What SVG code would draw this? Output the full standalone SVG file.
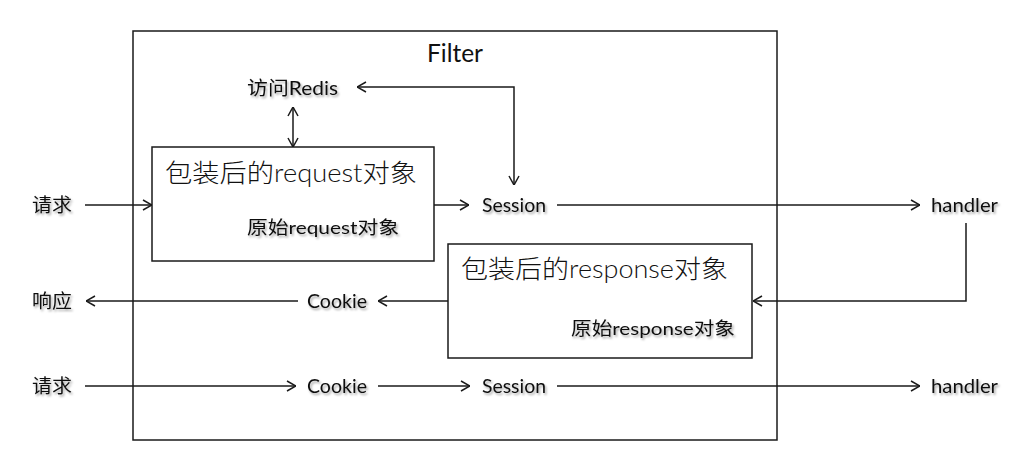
<svg xmlns="http://www.w3.org/2000/svg" width="1019" height="468" viewBox="0 0 1019 468">
<defs>
<style>
.ln{stroke:#1a1a1a;stroke-width:1.5;fill:none}
.box{stroke:#1a1a1a;stroke-width:1.5;fill:#fff}
.lbl{font-family:Lato,"Open Sans","Noto Sans CJK SC",sans-serif;font-size:19px;fill:#111}
.cjk{font-family:"Noto Sans CJK SC",sans-serif;font-size:19px;fill:#111}
.big{font-family:"Noto Sans CJK SC",sans-serif;font-size:25px;font-weight:300;fill:#111}
.mid{font-family:"Noto Sans CJK SC",sans-serif;font-size:18px;fill:#111}
.title{font-family:Lato,"Open Sans",sans-serif;font-size:25px;fill:#111}
.sh{filter:url(#shadow)}
</style>
<filter id="shadow" x="-10%" y="-30%" width="130%" height="170%">
<feDropShadow dx="1.5" dy="2" stdDeviation="1.2" flood-color="#000" flood-opacity="0.35"/>
</filter>
<marker id="ah" viewBox="0 0 10 12" refX="10" refY="6" markerWidth="10" markerHeight="12" markerUnits="userSpaceOnUse" orient="auto-start-reverse">
<path d="M1,1 L10,6 L1,11" fill="none" stroke="#1a1a1a" stroke-width="1.5"/>
</marker>
</defs>

<g id="filter-box">
<rect class="box" x="133" y="31" width="644" height="409" fill="none"/>
<text class="title" x="427" y="62" textLength="56" lengthAdjust="spacingAndGlyphs">Filter</text>
</g>

<g id="connectors">
<line class="ln" x1="85" y1="205" x2="152" y2="205" marker-end="url(#ah)"/>
<line class="ln" x1="434" y1="205" x2="469" y2="205" marker-end="url(#ah)"/>
<line class="ln" x1="557" y1="205" x2="920" y2="205" marker-end="url(#ah)"/>
<line class="ln" x1="293" y1="107" x2="293" y2="147" marker-start="url(#ah)" marker-end="url(#ah)"/>
<polyline class="ln" points="357,87 514,87 514,185" marker-start="url(#ah)" marker-end="url(#ah)"/>
<polyline class="ln" points="966,223 966,301 753,301" marker-end="url(#ah)"/>
<line class="ln" x1="448" y1="301" x2="378" y2="301" marker-end="url(#ah)"/>
<line class="ln" x1="298" y1="301" x2="86" y2="301" marker-end="url(#ah)"/>
<line class="ln" x1="85" y1="386" x2="296" y2="386" marker-end="url(#ah)"/>
<line class="ln" x1="378" y1="386" x2="470" y2="386" marker-end="url(#ah)"/>
<line class="ln" x1="557" y1="386" x2="920" y2="386" marker-end="url(#ah)"/>
</g>

<g id="redis">
<text class="cjk sh" x="247" y="95" textLength="91" lengthAdjust="spacingAndGlyphs">访问<tspan font-family="Lato,'Open Sans',sans-serif">Redis</tspan></text>
</g>

<g id="request-wrapper">
<rect class="box" x="152" y="147" width="282" height="114"/>
<text class="big" x="165" y="182" textLength="252" lengthAdjust="spacingAndGlyphs">包装后的<tspan font-family="Lato,'Open Sans',sans-serif">request</tspan>对象</text>
<text class="mid sh" x="247" y="234" textLength="152" lengthAdjust="spacingAndGlyphs">原始<tspan font-family="Lato,'Open Sans',sans-serif">request</tspan>对象</text>
</g>

<g id="response-wrapper">
<rect class="box" x="448" y="244" width="304" height="114"/>
<text class="big" x="461" y="278" textLength="267" lengthAdjust="spacingAndGlyphs">包装后的<tspan font-family="Lato,'Open Sans',sans-serif">response</tspan>对象</text>
<text class="mid sh" x="571" y="335" textLength="164" lengthAdjust="spacingAndGlyphs">原始<tspan font-family="Lato,'Open Sans',sans-serif">response</tspan>对象</text>
</g>

<g id="req1"><text class="cjk sh" x="32" y="212" textLength="40" lengthAdjust="spacingAndGlyphs">请求</text></g>
<g id="session1"><text class="lbl sh" x="482" y="212" textLength="64" lengthAdjust="spacingAndGlyphs">Session</text></g>
<g id="handler1"><text class="lbl sh" x="931" y="212" textLength="67" lengthAdjust="spacingAndGlyphs">handler</text></g>

<g id="resp"><text class="cjk sh" x="32" y="308" textLength="40" lengthAdjust="spacingAndGlyphs">响应</text></g>
<g id="cookie1"><text class="lbl sh" x="307" y="308" textLength="60" lengthAdjust="spacingAndGlyphs">Cookie</text></g>

<g id="req2"><text class="cjk sh" x="32" y="393" textLength="40" lengthAdjust="spacingAndGlyphs">请求</text></g>
<g id="cookie2"><text class="lbl sh" x="307" y="393" textLength="60" lengthAdjust="spacingAndGlyphs">Cookie</text></g>
<g id="session2"><text class="lbl sh" x="482" y="393" textLength="64" lengthAdjust="spacingAndGlyphs">Session</text></g>
<g id="handler2"><text class="lbl sh" x="931" y="393" textLength="67" lengthAdjust="spacingAndGlyphs">handler</text></g>
</svg>
